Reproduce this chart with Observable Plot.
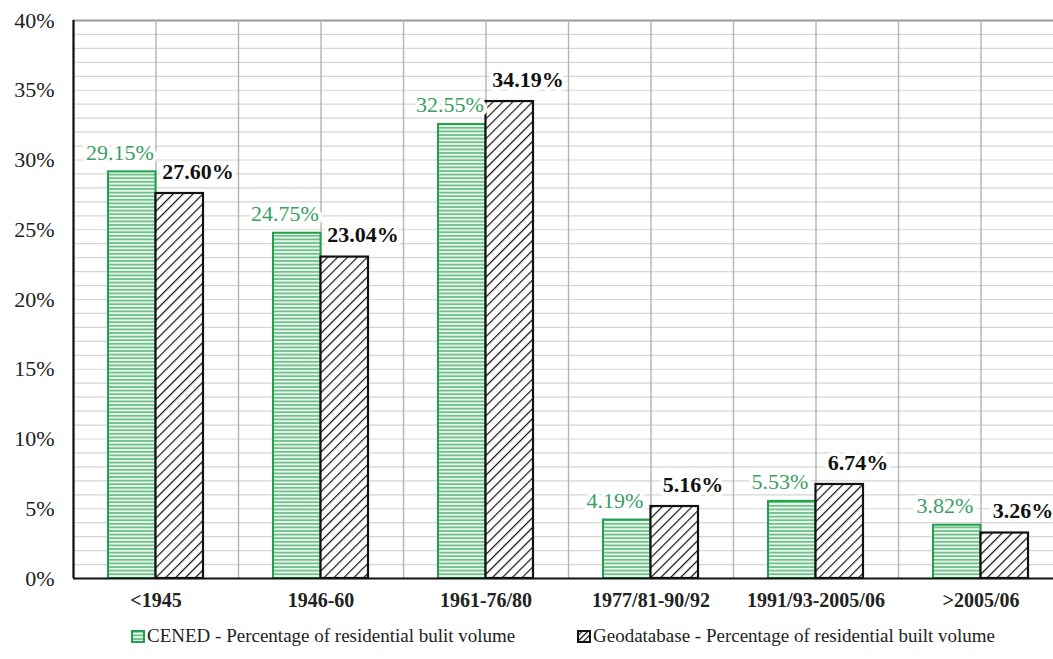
<!DOCTYPE html>
<html>
<head>
<meta charset="utf-8">
<script src="https://cdn.jsdelivr.net/npm/d3@7"></script>
<script src="https://cdn.jsdelivr.net/npm/@observablehq/plot@0.6"></script>
<style>
  html, body { margin: 0; padding: 0; background: #fff; overflow: hidden; width: 1053px; height: 659px; }
  #chart { position: absolute; left: 0; top: 0; }
  .leg { position: absolute; top: 625px; font-family: 'Liberation Serif', serif; font-size: 19px; color: #222; display: flex; align-items: center; white-space: nowrap; }
  .leg svg { margin-right: 2px; }
</style>
</head>
<body>
<div id="chart"></div>
<div class="leg" style="left:131px"><svg width="14" height="13"><rect x="1" y="1" width="12" height="11" fill="url(#hz)" stroke="#22a04b" stroke-width="2"/></svg><span id="leg0"></span></div>
<div class="leg" style="left:577px"><svg width="14" height="13"><rect x="1" y="1" width="12" height="11" fill="url(#dgs)" stroke="#111" stroke-width="2"/></svg><span id="leg1"></span></div>
<script>
const categories = ["<1945", "1946-60", "1961-76/80", "1977/81-90/92", "1991/93-2005/06", ">2005/06"];
const cened = [29.15, 24.75, 32.55, 4.19, 5.53, 3.82];
const geodb = [27.60, 23.04, 34.19, 5.16, 6.74, 3.26];
const seriesNames = ["CENED - Percentage of residential bulit volume", "Geodatabase - Percentage of residential built volume"];
const yTicks = [0, 5, 10, 15, 20, 25, 30, 35, 40];
const yGrid = d3.range(0, 40, 1);

const green = "#22a04b";
const greenText = "#3a9e64";

const rowsC = categories.map((c, i) => ({cat: c, v: cened[i]}));
const rowsG = categories.map((c, i) => ({cat: c, v: geodb[i]}));

const serif = "'Liberation Serif', 'Times New Roman', serif";

const chart = Plot.plot({
  width: 1063,
  height: 615,
  marginLeft: 73,
  marginRight: 0,
  marginTop: 20,
  marginBottom: 37,
  style: {fontFamily: serif, background: "white", maxWidth: "none", overflow: "visible"},
  x: {domain: categories, padding: 0, label: null},
  y: {domain: [0, 40], label: null},
  marks: [
    Plot.ruleY(yGrid, {stroke: "#d6d6d6", strokeWidth: 1.2}),
    Plot.ruleY([40], {stroke: "#9a9a9a", strokeWidth: 2}),
    Plot.ruleX(categories, {stroke: "#b4b4b4", strokeWidth: 1.4}),
    Plot.ruleX(categories, {stroke: "#b4b4b4", strokeWidth: 1.4, dx: -82.5}),
    Plot.barY(rowsC, {x: "cat", y: "v", fill: "url(#hz)", stroke: green, strokeWidth: 2, insetLeft: 35, insetRight: 82.5}),
    Plot.barY(rowsG, {x: "cat", y: "v", fill: "url(#dg)", stroke: "#111", strokeWidth: 2.2, insetLeft: 82.5, insetRight: 35}),
    Plot.ruleX([categories[0]], {stroke: "#111", strokeWidth: 2.2, dx: -82.5}),
    Plot.ruleY([0], {stroke: "#111", strokeWidth: 2.2}),
    Plot.text(rowsC, {x: "cat", y: "v", text: d => d.v.toFixed(2) + "%", dx: -36, dy: -19, fill: greenText, fontSize: 22, stroke: "white", strokeWidth: 8, paintOrder: "stroke"}),
    Plot.text(rowsG, {x: "cat", y: "v", text: d => d.v.toFixed(2) + "%", dx: 42, dy: -22, fill: "#111", fontSize: 22, fontWeight: "bold", stroke: "white", strokeWidth: 8, paintOrder: "stroke"}),
    Plot.axisY({ticks: yTicks, tickSize: 0, tickPadding: 19, tickFormat: d => d + "%", fontSize: 22, fill: "#222", label: null}),
    Plot.axisX({tickSize: 0, tickPadding: 14, fontSize: 20, fontWeight: "bold", fill: "#222", label: null})
  ]
});

const defs = d3.select(chart).insert("defs", ":first-child");
const hz = defs.append("pattern").attr("id", "hz").attr("patternUnits", "userSpaceOnUse").attr("width", 8).attr("height", 3.6);
hz.append("rect").attr("width", 8).attr("height", 3.6).attr("fill", "#eaf6ee");
hz.append("line").attr("x1", 0).attr("x2", 8).attr("y1", 1.8).attr("y2", 1.8).attr("stroke", green).attr("stroke-width", 1.1);
const dg = defs.append("pattern").attr("id", "dg").attr("patternUnits", "userSpaceOnUse").attr("width", 7).attr("height", 7).attr("patternTransform", "rotate(45)");
dg.append("rect").attr("width", 7).attr("height", 7).attr("fill", "white");
dg.append("line").attr("x1", 0).attr("x2", 0).attr("y1", 0).attr("y2", 7).attr("stroke", "#111").attr("stroke-width", 2.4);
const dgs = defs.append("pattern").attr("id", "dgs").attr("patternUnits", "userSpaceOnUse").attr("width", 4).attr("height", 4).attr("patternTransform", "rotate(45)");
dgs.append("rect").attr("width", 4).attr("height", 4).attr("fill", "white");
dgs.append("line").attr("x1", 0).attr("x2", 0).attr("y1", 0).attr("y2", 4).attr("stroke", "#111").attr("stroke-width", 2.4);

document.getElementById("chart").appendChild(chart);
document.getElementById("leg0").textContent = seriesNames[0];
document.getElementById("leg1").textContent = seriesNames[1];
</script>
</body>
</html>
